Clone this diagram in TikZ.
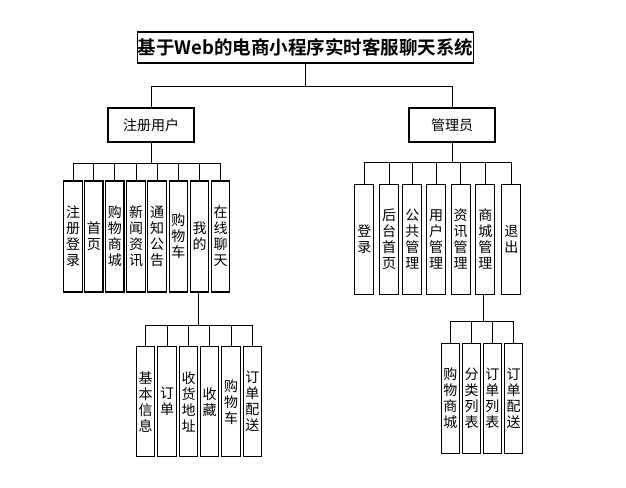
\documentclass[tikz,border=0pt]{standalone}
\usepackage{fontspec}
\setmainfont{Noto Sans CJK SC}
\newfontfamily\titlefont{Noto Sans CJK SC Bold}
\begin{document}
\begin{tikzpicture}[x=1pt,y=-1pt,
  box/.style={draw,line width=1.1pt,inner sep=0pt,align=center},
  topbox/.style={box,minimum width=86pt,minimum height=34pt,font=\fontsize{14}{16}\selectfont},
  vbox/.style={box,minimum width=18.3pt,minimum height=110pt,font=\fontsize{14}{16}\selectfont},
  link/.style={line width=1pt}]
\useasboundingbox (0,0) rectangle (626,487);
\node[box,line width=1.3pt,minimum width=331pt,minimum height=31pt,font=\titlefont\fontsize{18.5}{20}\selectfont] (title) at (305.5,47.5) {基于Web的电商小程序实时客服聊天系统};
\node[topbox] (user) at (151,125) {注册用户};
\node[topbox] (admin) at (452,125) {管理员};
\coordinate (b0) at (0,86);
\draw[link] (title.south) -- (title.south|-b0) -| (user.north);
\draw[link] (title.south) -- (title.south|-b0) -| (admin.north);
% left children
\coordinate (b1) at (0,163);
\foreach \n/\x/\t in {u1/73/注\\册\\登\\录, u2/93.8/首\\页, u3/114.8/购\\物\\商\\城, u4/136/新\\闻\\资\\讯, u5/157/通\\知\\公\\告, u6/178.3/购\\物\\车, u7/199.7/我\\的, u8/220.7/在\\线\\聊\\天}{
  \node[vbox,minimum height=111pt] (\n) at (\x,236.5) {\t};
  \draw[link] (user.south) -- (user.south|-b1) -| (\n.north);
}
% lower left
\coordinate (b2) at (0,325);
\foreach \n/\x/\t in {m1/145.7/基\\本\\信\\息, m2/167/订\\单, m3/188.7/收\\货\\地\\址, m4/209.7/收\\藏, m5/231/购\\物\\车, m6/252.3/订\\单\\配\\送}{
  \node[vbox] (\n) at (\x,401.7) {\t};
  \draw[link] ([xshift=-1.5pt]u7.south) -- ([xshift=-1.5pt]u7.south|-b2) -| (\n.north);
}
% right children
\coordinate (b3) at (0,162.7);
\foreach \n/\x/\t in {a1/364.3/登\\录, a2/389/后\\台\\首\\页, a3/412.3/公\\共\\管\\理, a4/436/用\\户\\管\\理, a5/460.7/资\\讯\\管\\理, a6/485.3/商\\城\\管\\理, a7/511.3/退\\出}{
  \node[vbox,minimum width=19pt] (\n) at (\x,239.3) {\t};
  \draw[link] (admin.south) -- (admin.south|-b3) -| (\n.north);
}
% lower right
\coordinate (b4) at (0,321.7);
\foreach \n/\x/\t in {s1/450.3/购\\物\\商\\城, s2/471.7/分\\类\\列\\表, s3/492.3/订\\单\\列\\表, s4/513.7/订\\单\\配\\送}{
  \node[vbox] (\n) at (\x,398.3) {\t};
  \draw[link] ([xshift=-2pt]a6.south) -- ([xshift=-2pt]a6.south|-b4) -| (\n.north);
}
\end{tikzpicture}
\end{document}
